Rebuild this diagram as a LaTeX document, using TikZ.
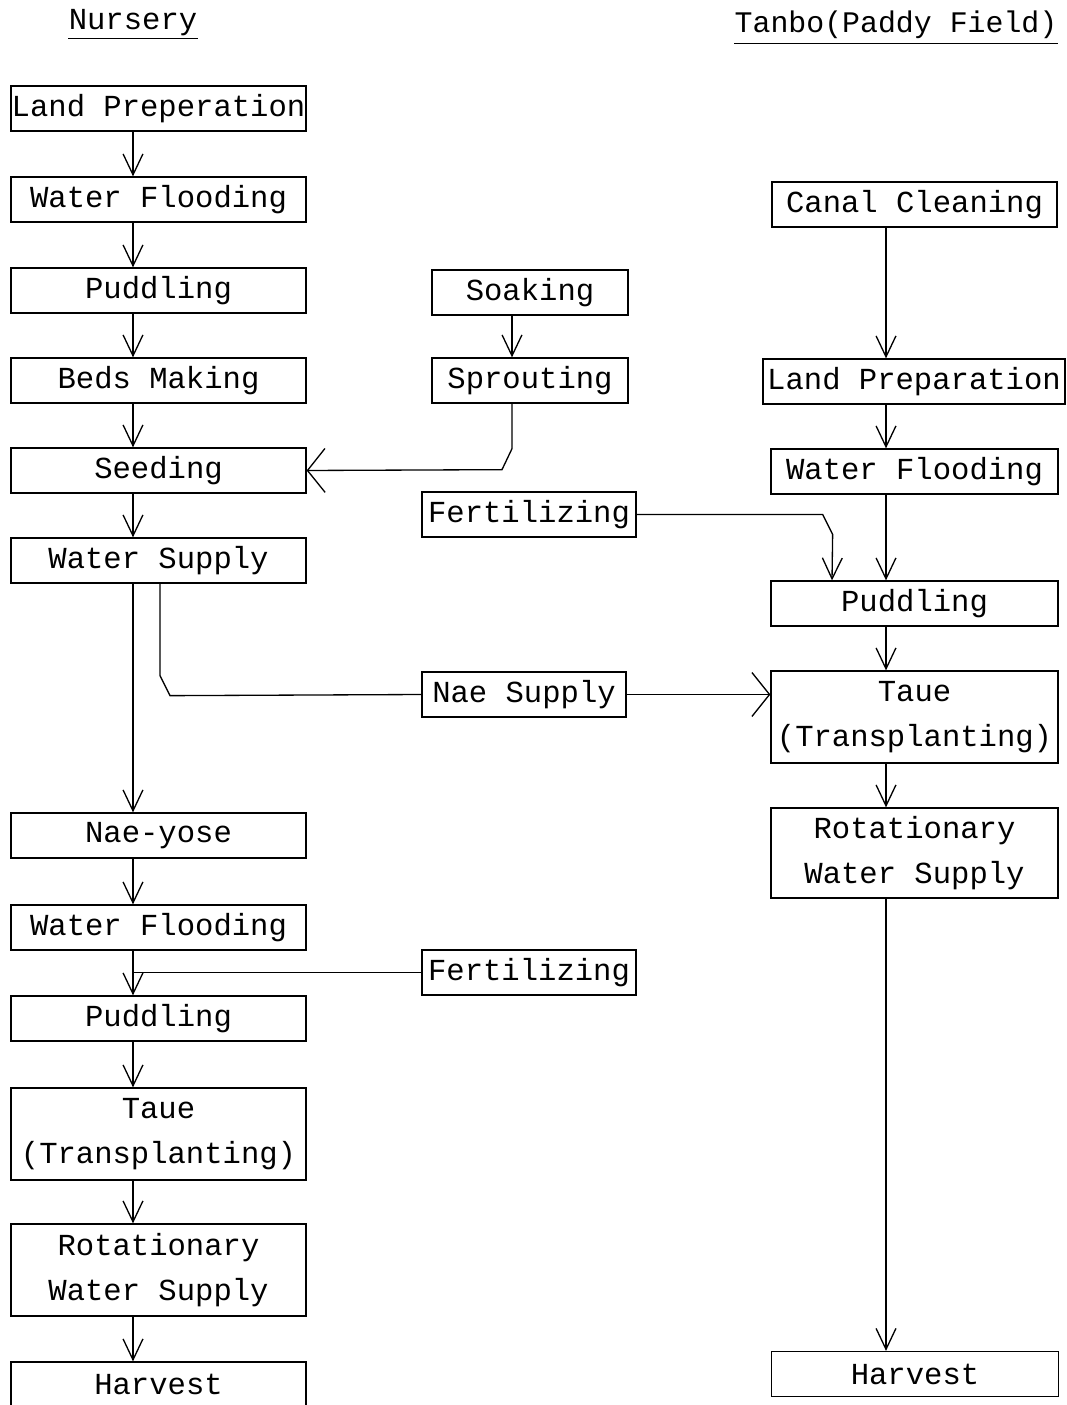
\documentclass[tikz,border=0pt]{standalone}
\usepackage{fontspec}
\setmonofont{Liberation Mono}
\usetikzlibrary{arrows.meta}
\newcommand{\flowfont}{\ttfamily\fontsize{17.4}{25.5}\selectfont}

\begin{document}
\begin{tikzpicture}[x=0.02cm, y=-0.02cm, font=\flowfont, line width=0.75pt,
	>={Straight Barb[length=11.9pt,width=11.3pt]},
	wide/.style={-{Straight Barb[length=10pt,width=25pt]}},
	box/.style={draw, inner sep=0pt, minimum height=0.9cm, align=center},
	lbox/.style={box, minimum width=5.9cm},
	rbox/.style={box, minimum width=5.74cm},
	tall/.style={minimum height=1.84cm}]
	\useasboundingbox (0,0) rectangle (1066,1405);

	\coordinate (lx) at (133,0);
	\coordinate (rx) at (886,0);
	\coordinate (sx) at (512,0);
	\coordinate (wx) at (160,0);
	\coordinate (fx) at (832,0);

	\node[anchor=base, inner sep=0pt] (nur) at (133,30) {Nursery};
	\node[anchor=base, inner sep=0pt, font=\ttfamily\fontsize{17}{20}\selectfont] (tan) at (896,33) {Tanbo(Paddy Field)};
	\draw ([yshift=-5pt]nur.base west) -- ([yshift=-5pt]nur.base east);
	\draw ([yshift=-6pt]tan.base west) -- ([yshift=-6pt]tan.base east);

	\node[lbox] (n1) at (158.5,108.5) {Land Preperation};
	\node[lbox] (n2) at (158.5,199.5) {Water Flooding};
	\node[lbox] (n3) at (158.5,290.5) {Puddling};
	\node[lbox] (n4) at (158.5,380.5) {Beds Making};
	\node[lbox] (n5) at (158.5,470.5) {Seeding};
	\node[lbox] (n6) at (158.5,560.5) {Water Supply};
	\node[lbox] (n7) at (158.5,835.5) {Nae-yose};
	\node[lbox] (n8) at (158.5,927.5) {Water Flooding};
	\node[lbox] (n9) at (158.5,1018.5) {Puddling};
	\node[lbox, tall] (n10) at (158.5,1134) {Taue\\(Transplanting)};
	\node[lbox, tall] (n11) at (158.5,1270) {Rotationary\\Water Supply};
	\node[lbox] (n12) at (158.5,1384.5) {Harvest};

	\node[box, minimum width=3.92cm] (s1) at (530,292.5) {Soaking};
	\node[box, minimum width=3.92cm] (s2) at (530,380.5) {Sprouting};
	\node[box, minimum width=4.28cm] (f1) at (529,514.5) {Fertilizing};
	\node[box, minimum width=4.08cm] (ns) at (524,694.5) {Nae Supply};
	\node[box, minimum width=4.28cm] (f2) at (529,972.5) {Fertilizing};

	\node[box, minimum width=5.7cm] (t1) at (914.5,204.5) {Canal Cleaning};
	\node[box, minimum width=6.04cm] (t2) at (914,381.5) {Land Preparation};
	\node[rbox] (t3) at (914.5,471.5) {Water Flooding};
	\node[rbox] (t4) at (914.5,603.5) {Puddling};
	\node[rbox, tall] (t5) at (914.5,717) {Taue\\(Transplanting)};
	\node[rbox, minimum height=1.8cm] (t6) at (914.5,853) {Rotationary\\Water Supply};
	\node[rbox] (t7) at (915,1374) {Harvest};

	\draw[->] (n1.south -| lx) -- (n2.north -| lx);
	\draw[->] (n2.south -| lx) -- (n3.north -| lx);
	\draw[->] (n3.south -| lx) -- (n4.north -| lx);
	\draw[->] (n4.south -| lx) -- (n5.north -| lx);
	\draw[->] (n5.south -| lx) -- (n6.north -| lx);
	\draw[->] (n6.south -| lx) -- (n7.north -| lx);
	\draw[->] (n7.south -| lx) -- (n8.north -| lx);
	\draw[->] (n8.south -| lx) -- (n9.north -| lx);
	\draw[->] (n9.south -| lx) -- (n10.north -| lx);
	\draw[->] (n10.south -| lx) -- (n11.north -| lx);
	\draw[->] (n11.south -| lx) -- (n12.north -| lx);

	\draw[->] (s1.south -| sx) -- (s2.north -| sx);
	\draw[wide] (s2.south -| sx) -- ++(0,45) -- ++(-10,21) -- (n5.east);
	\draw[->] (f1.east) -- ++(186,0) -- ++(10,20) -- (t4.north -| fx);
	\draw (n6.south -| wx) -- ++(0,92) -- ++(10,20) -- (ns.west);
	\draw[wide] (ns.east) -- (t5.west |- ns.east);
	\draw (f2.west) -- (f2.west -| lx);

	\draw[->] (t1.south -| rx) -- (t2.north -| rx);
	\draw[->] (t2.south -| rx) -- (t3.north -| rx);
	\draw[->] (t3.south -| rx) -- (t4.north -| rx);
	\draw[->] (t4.south -| rx) -- (t5.north -| rx);
	\draw[->] (t5.south -| rx) -- (t6.north -| rx);
	\draw[->] (t6.south -| rx) -- (t7.north -| rx);
\end{tikzpicture}
\end{document}
